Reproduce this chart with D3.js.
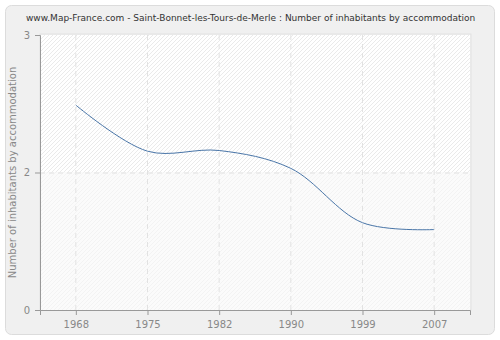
<!DOCTYPE html>
<html><head><meta charset="utf-8">
<script src="https://cdn.jsdelivr.net/npm/d3@7"></script>
<style>body{margin:0;background:#fff}svg{display:block}</style>
</head><body>
<script>
const title = "www.Map-France.com - Saint-Bonnet-les-Tours-de-Merle : Number of inhabitants by accommodation";
const yLabel = "Number of inhabitants by accommodation";
const years = ["1968","1975","1982","1990","1999","2007"];
const values = [2.49, 2.155, 2.16, 2.03, 1.635, 1.585];
const yTickValues = [1, 2, 3];
const yTickLabels = ["0", "2", "3"];

const W = 500, H = 340;
const m = {left: 40, right: 30, top: 35, bottom: 30};
const svg = d3.select("body").append("svg").attr("width", W).attr("height", H);
const defs = svg.append("defs");
function hatch(id, bg, fg) {
  const p = defs.append("pattern").attr("id", id).attr("patternUnits", "userSpaceOnUse")
    .attr("width", 4).attr("height", 4);
  p.append("rect").attr("width", 4).attr("height", 4).attr("fill", bg);
  p.append("path").attr("d", "M-1,1 l2,-2 M0,4 l4,-4 M3,5 l2,-2").attr("stroke", fg).attr("stroke-width", 1);
}
hatch("h1", "#ffffff", "#eaeaea");
hatch("h2", "#fbfbfb", "#f3f3f3");

svg.append("rect").attr("x", 5.5).attr("y", 5.5).attr("width", 489).attr("height", 329)
  .attr("rx", 6).attr("fill", "#f0f0f0").attr("stroke", "#dcdcdc");

const x = d3.scalePoint().domain(years).range([m.left, W - m.right]).padding(0.5);
const y = d3.scaleLinear().domain([1, 3]).range([H - m.bottom, m.top]);

const plotW = W - m.right - m.left;
svg.append("rect").attr("x", m.left).attr("y", m.top - 1).attr("width", plotW + 1)
  .attr("height", y(1) - m.top + 1).attr("fill", "none").attr("stroke", "#e2e2e2");
svg.append("rect").attr("x", m.left).attr("y", y(3)).attr("width", plotW).attr("height", y(2) - y(3)).attr("fill", "url(#h1)");
svg.append("rect").attr("x", m.left).attr("y", y(2)).attr("width", plotW).attr("height", y(1) - y(2)).attr("fill", "url(#h2)");

// grid
const g = svg.append("g").attr("stroke", "#e2e2e2").attr("stroke-dasharray", "5,4").attr("fill", "none");
years.forEach(d => g.append("line").attr("x1", x(d)).attr("x2", x(d)).attr("y1", y(3)).attr("y2", y(1)));
g.append("line").attr("x1", m.left).attr("x2", W - m.right).attr("y1", y(2) + 0.5).attr("y2", y(2) + 0.5);

// axes
const xAxis = svg.append("g").attr("transform", `translate(0,${y(1)})`)
  .call(d3.axisBottom(x).tickSizeOuter(0).tickSize(5).tickPadding(6));
const yAxis = svg.append("g").attr("transform", `translate(${m.left},0)`)
  .call(d3.axisLeft(y).tickValues(yTickValues).tickFormat((d, i) => yTickLabels[i]).tickSizeOuter(0).tickSize(5).tickPadding(5));
[xAxis, yAxis].forEach(a => {
  a.select(".domain").attr("stroke", "#999");
  a.selectAll(".tick line").attr("stroke", "#999");
  a.selectAll("text").attr("fill", "#888").style("font-family", "DejaVu Sans, Verdana, sans-serif").style("font-size", "10px");
});

// line
svg.append("path").datum(values)
  .attr("d", d3.line().x((d, i) => x(years[i])).y(d => y(d)).curve(d3.curveCatmullRom.alpha(0.5)))
  .attr("fill", "none").attr("stroke", "#4a76a8").attr("stroke-width", 1);

svg.append("text").attr("x", 26).attr("y", 21).text(title)
  .attr("fill", "#333").style("font-family", "DejaVu Sans, Verdana, sans-serif").style("font-size", "9px");
svg.append("text").attr("transform", `translate(16,${(y(1) + y(3)) / 2}) rotate(-90)`)
  .attr("text-anchor", "middle").text(yLabel)
  .attr("fill", "#888").style("font-family", "DejaVu Sans, Verdana, sans-serif").style("font-size", "10px");
</script>
</body></html>
